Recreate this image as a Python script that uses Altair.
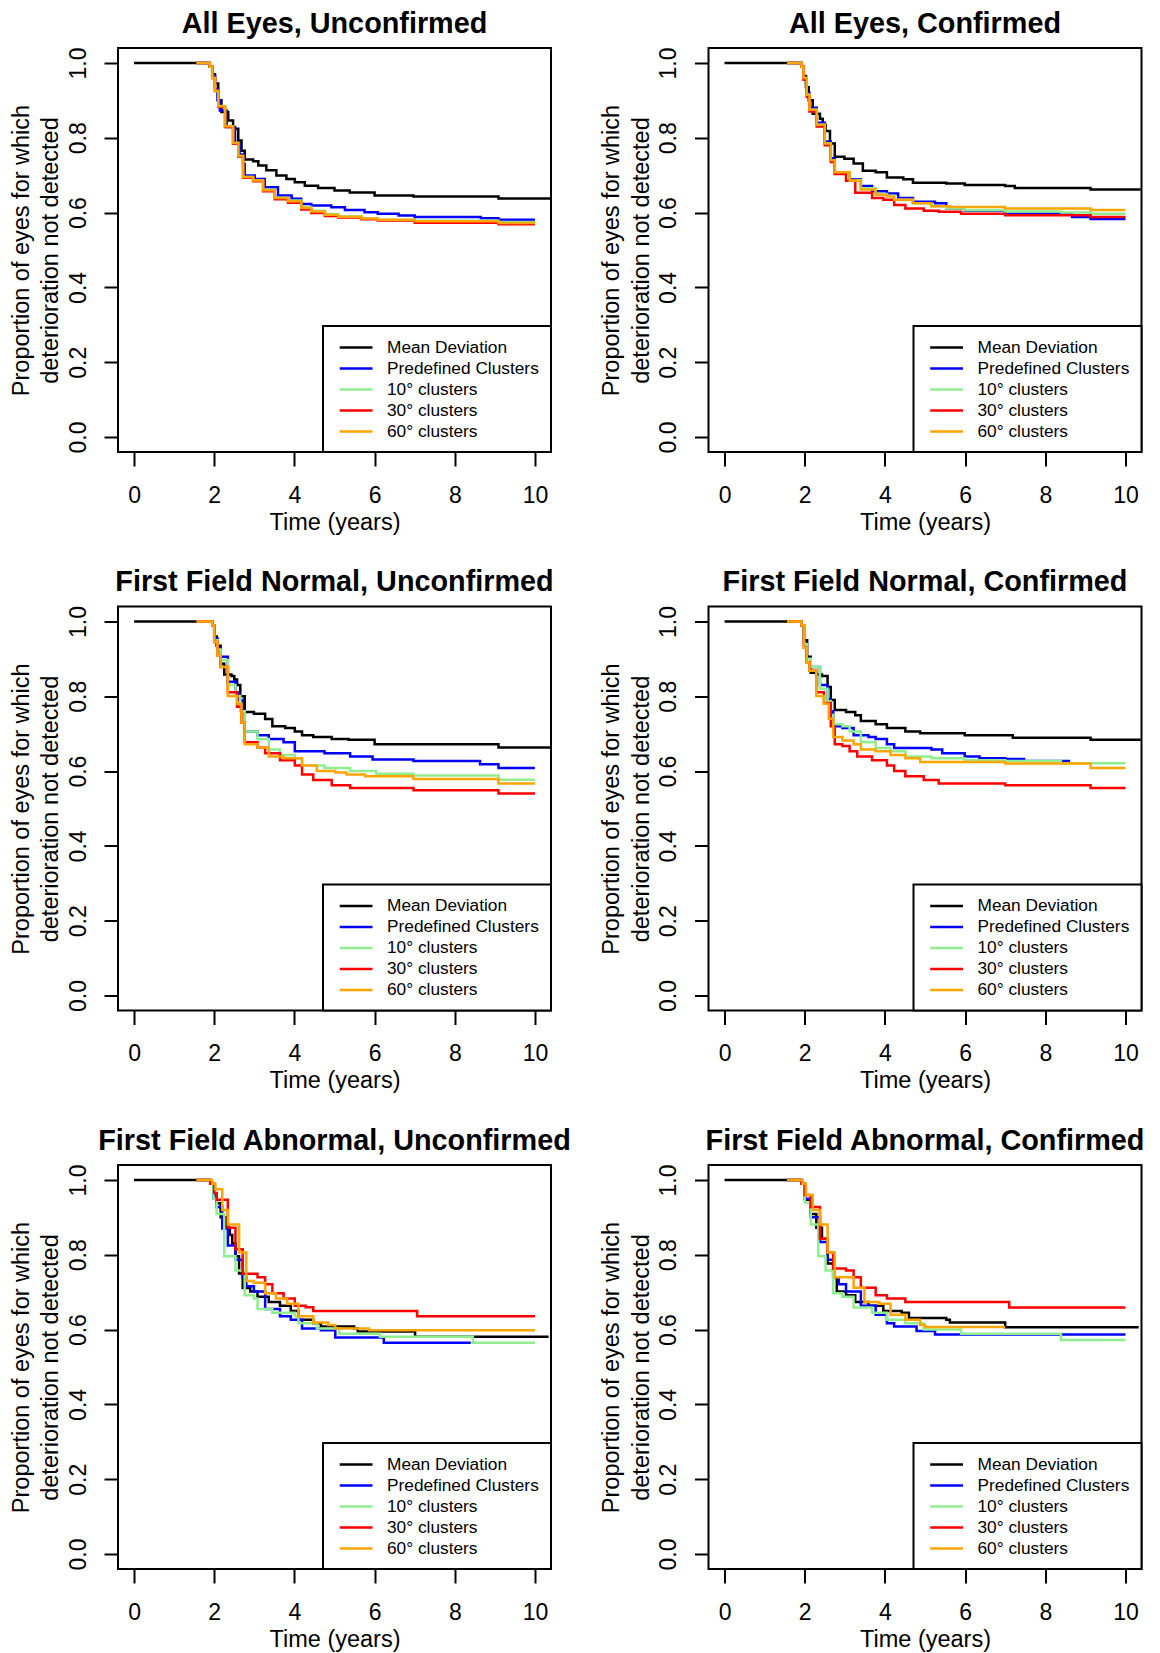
import altair as alt
import pandas as pd

SERIES = ["Mean Deviation", "Predefined Clusters", "10° clusters", "30° clusters", "60° clusters"]
COLORS = ["#000000", "#0000FF", "#90EE90", "#FF0000", "#FFA500"]
X_TICKS = [0, 2, 4, 6, 8, 10]
Y_TICKS = [0.0, 0.2, 0.4, 0.6, 0.8, 1.0]
TITLES = [
    "All Eyes, Unconfirmed", "All Eyes, Confirmed",
    "First Field Normal, Unconfirmed", "First Field Normal, Confirmed",
    "First Field Abnormal, Unconfirmed", "First Field Abnormal, Confirmed",
]

# ---- Panel 1: All Eyes, Unconfirmed (time in years, proportion not detected)
P1_MD = [(0, 1.0), (1.89, 0.99), (1.95, 0.97), (2.02, 0.945), (2.10, 0.90), (2.18, 0.869), (2.35, 0.846),
         (2.47, 0.824), (2.60, 0.793), (2.68, 0.765), (2.76, 0.742), (2.97, 0.737), (3.10, 0.726), (3.30, 0.713),
         (3.55, 0.699), (3.80, 0.690), (4.01, 0.681), (4.26, 0.672), (4.59, 0.666), (5.0, 0.659), (5.38, 0.654),
         (6.0, 0.646), (6.97, 0.643), (9.09, 0.638), (10.38, 0.638)]
P1_PC = [(1.56, 1.0), (1.89, 0.99), (1.95, 0.965), (2.02, 0.93), (2.08, 0.90), (2.14, 0.873), (2.31, 0.829),
         (2.52, 0.784), (2.63, 0.755), (2.72, 0.730), (2.76, 0.699), (3.01, 0.690), (3.26, 0.668), (3.59, 0.646),
         (3.93, 0.637), (4.17, 0.623), (4.42, 0.619), (4.92, 0.614), (5.26, 0.607), (5.75, 0.601), (6.08, 0.597),
         (6.6, 0.592), (7.0, 0.588), (8.65, 0.585), (9.09, 0.581), (10.0, 0.581)]
P1_10 = [(1.56, 1.0), (1.89, 0.99), (1.95, 0.96), (2.02, 0.925), (2.10, 0.885), (2.27, 0.829), (2.47, 0.784),
         (2.60, 0.75), (2.72, 0.695), (2.97, 0.686), (3.22, 0.661), (3.51, 0.640), (3.84, 0.632), (4.17, 0.615),
         (4.42, 0.605), (4.76, 0.596), (5.09, 0.590), (5.67, 0.585), (6.08, 0.580), (7.0, 0.578), (9.09, 0.575),
         (10.0, 0.575)]
P1_30 = [(1.56, 1.0), (1.89, 0.99), (1.95, 0.96), (2.02, 0.925), (2.10, 0.882), (2.27, 0.829), (2.47, 0.784),
         (2.60, 0.75), (2.72, 0.693), (2.97, 0.684), (3.22, 0.657), (3.51, 0.636), (3.84, 0.626), (4.17, 0.608),
         (4.42, 0.599), (4.76, 0.591), (5.09, 0.587), (5.67, 0.582), (6.08, 0.579), (7.0, 0.573), (9.09, 0.569),
         (10.0, 0.569)]
P1_60 = [(1.56, 1.0), (1.89, 0.99), (1.95, 0.96), (2.02, 0.925), (2.10, 0.884), (2.27, 0.831), (2.47, 0.786),
         (2.60, 0.752), (2.72, 0.695), (2.97, 0.686), (3.22, 0.660), (3.51, 0.639), (3.84, 0.630), (4.17, 0.612),
         (4.42, 0.603), (4.76, 0.594), (5.09, 0.589), (5.67, 0.584), (6.08, 0.581), (7.0, 0.577), (9.09, 0.572),
         (10.0, 0.572)]

# ---- Panel 2: All Eyes, Confirmed
P2_MD = [(0, 1.0), (1.92, 0.99), (1.97, 0.965), (2.03, 0.935), (2.10, 0.90), (2.2, 0.864), (2.38, 0.851),
         (2.45, 0.835), (2.52, 0.818), (2.63, 0.785), (2.75, 0.749), (2.99, 0.744), (3.22, 0.731), (3.45, 0.712),
         (3.77, 0.708), (4.05, 0.694), (4.46, 0.689), (4.7, 0.680), (5.53, 0.678), (5.99, 0.674), (7.0, 0.671),
         (7.24, 0.666), (9.13, 0.662), (10.38, 0.662)]
P2_PC = [(1.56, 1.0), (1.92, 0.99), (1.97, 0.96), (2.05, 0.92), (2.12, 0.88), (2.3, 0.84), (2.5, 0.79),
         (2.65, 0.745), (2.75, 0.708), (3.12, 0.689), (3.40, 0.671), (3.68, 0.657), (4.05, 0.651), (4.33, 0.639),
         (4.70, 0.629), (5.25, 0.625), (5.53, 0.611), (5.99, 0.605), (7.0, 0.597), (8.67, 0.588), (9.13, 0.583),
         (10.0, 0.583)]
P2_10 = [(1.56, 1.0), (1.92, 0.99), (1.97, 0.96), (2.05, 0.915), (2.12, 0.875), (2.3, 0.835), (2.5, 0.785),
         (2.65, 0.74), (2.75, 0.708), (3.12, 0.687), (3.40, 0.665), (3.77, 0.650), (4.05, 0.645), (4.23, 0.634),
         (4.70, 0.625), (5.16, 0.617), (5.53, 0.611), (5.99, 0.606), (7.0, 0.603), (8.4, 0.600), (9.13, 0.597),
         (10.0, 0.597)]
P2_30 = [(1.56, 1.0), (1.92, 0.99), (1.97, 0.955), (2.05, 0.91), (2.12, 0.87), (2.3, 0.83), (2.5, 0.78),
         (2.65, 0.735), (2.75, 0.703), (3.03, 0.685), (3.26, 0.653), (3.68, 0.639), (3.96, 0.634), (4.23, 0.620),
         (4.51, 0.611), (4.97, 0.605), (5.34, 0.602), (5.90, 0.597), (7.0, 0.593), (9.13, 0.588), (10.0, 0.588)]
P2_60 = [(1.56, 1.0), (1.92, 0.99), (1.97, 0.96), (2.05, 0.915), (2.12, 0.875), (2.3, 0.835), (2.5, 0.785),
         (2.65, 0.74), (2.75, 0.708), (3.12, 0.685), (3.40, 0.662), (3.77, 0.648), (4.05, 0.643), (4.23, 0.634),
         (4.70, 0.625), (5.16, 0.617), (5.62, 0.615), (7.0, 0.611), (9.13, 0.607), (10.0, 0.607)]

# ---- Panel 3: First Field Normal, Unconfirmed
P3_MD = [(0, 1.0), (1.95, 0.99), (2.0, 0.96), (2.06, 0.935), (2.16, 0.887), (2.25, 0.858), (2.43, 0.854),
         (2.5, 0.845), (2.57, 0.830), (2.65, 0.80), (2.76, 0.758), (2.99, 0.753), (3.27, 0.739), (3.45, 0.720),
         (3.77, 0.715), (4.01, 0.706), (4.19, 0.696), (4.47, 0.691), (4.93, 0.686), (5.35, 0.684), (6.0, 0.672),
         (9.09, 0.663), (10.38, 0.663)]
P3_PC = [(1.56, 1.0), (1.95, 0.99), (2.0, 0.955), (2.08, 0.93), (2.16, 0.906), (2.34, 0.839), (2.53, 0.811),
         (2.62, 0.79), (2.71, 0.763), (2.76, 0.706), (3.08, 0.696), (3.36, 0.686), (3.73, 0.677), (4.01, 0.653),
         (4.75, 0.648), (5.39, 0.639), (5.95, 0.631), (6.97, 0.627), (8.63, 0.618), (9.09, 0.608), (10.0, 0.608)]
P3_10 = [(1.56, 1.0), (1.95, 0.99), (2.0, 0.95), (2.08, 0.925), (2.16, 0.897), (2.34, 0.83), (2.53, 0.801),
         (2.65, 0.76), (2.76, 0.706), (3.08, 0.686), (3.36, 0.658), (3.64, 0.643), (4.01, 0.634), (4.19, 0.615),
         (4.75, 0.608), (5.39, 0.600), (6.04, 0.593), (6.97, 0.588), (9.09, 0.577), (10.0, 0.577)]
P3_30 = [(1.56, 1.0), (1.95, 0.99), (2.0, 0.945), (2.08, 0.91), (2.16, 0.878), (2.34, 0.811), (2.57, 0.772),
         (2.68, 0.73), (2.76, 0.677), (3.08, 0.663), (3.27, 0.648), (3.64, 0.629), (4.01, 0.615), (4.19, 0.591),
         (4.47, 0.576), (4.93, 0.562), (5.39, 0.555), (6.97, 0.549), (9.09, 0.540), (10.0, 0.540)]
P3_60 = [(1.56, 1.0), (1.95, 0.99), (2.0, 0.945), (2.08, 0.91), (2.16, 0.878), (2.34, 0.801), (2.57, 0.78),
         (2.68, 0.73), (2.76, 0.672), (3.08, 0.663), (3.36, 0.639), (3.73, 0.634), (4.19, 0.615), (4.56, 0.600),
         (5.02, 0.596), (5.30, 0.591), (5.76, 0.586), (6.97, 0.579), (9.09, 0.567), (10.0, 0.567)]

# ---- Panel 4: First Field Normal, Confirmed
P4_MD = [(0, 1.0), (1.92, 0.99), (1.98, 0.95), (2.06, 0.906), (2.15, 0.863), (2.29, 0.858), (2.43, 0.854),
         (2.57, 0.825), (2.65, 0.79), (2.75, 0.763), (3.03, 0.758), (3.26, 0.749), (3.40, 0.734), (3.77, 0.725),
         (4.05, 0.715), (4.51, 0.706), (4.88, 0.701), (5.99, 0.696), (7.19, 0.689), (9.13, 0.684), (10.38, 0.684)]
P4_PC = [(1.56, 1.0), (1.92, 0.99), (1.98, 0.94), (2.05, 0.90), (2.15, 0.878), (2.38, 0.830), (2.57, 0.792),
         (2.65, 0.76), (2.71, 0.720), (2.94, 0.715), (3.22, 0.696), (3.59, 0.691), (3.77, 0.686), (4.05, 0.672),
         (4.23, 0.662), (5.16, 0.658), (5.43, 0.648), (5.99, 0.639), (6.36, 0.634), (7.0, 0.632), (7.47, 0.627),
         (8.62, 0.627)]
P4_10 = [(1.56, 1.0), (1.92, 0.99), (1.98, 0.94), (2.05, 0.90), (2.15, 0.878), (2.38, 0.820), (2.57, 0.787),
         (2.65, 0.75), (2.71, 0.725), (2.94, 0.720), (3.12, 0.706), (3.40, 0.677), (3.77, 0.662), (4.14, 0.653),
         (4.51, 0.639), (5.16, 0.634), (5.99, 0.629), (7.0, 0.627), (8.39, 0.621), (10.0, 0.621)]
P4_30 = [(1.56, 1.0), (1.92, 0.99), (1.98, 0.93), (2.05, 0.89), (2.12, 0.868), (2.29, 0.811), (2.48, 0.782),
         (2.65, 0.72), (2.75, 0.672), (2.94, 0.667), (3.12, 0.653), (3.31, 0.639), (3.68, 0.629), (4.05, 0.615),
         (4.23, 0.600), (4.51, 0.586), (4.97, 0.576), (5.34, 0.567), (7.0, 0.562), (9.13, 0.555), (10.0, 0.555)]
P4_60 = [(1.56, 1.0), (1.92, 0.99), (1.98, 0.93), (2.05, 0.89), (2.12, 0.868), (2.29, 0.801), (2.48, 0.78),
         (2.6, 0.74), (2.71, 0.691), (2.94, 0.682), (3.22, 0.672), (3.40, 0.658), (3.77, 0.653), (4.14, 0.643),
         (4.51, 0.634), (4.88, 0.624), (7.0, 0.620), (9.13, 0.608), (10.0, 0.608)]

# ---- Panel 5: First Field Abnormal, Unconfirmed
P5_MD = [(0, 1.0), (1.9, 0.99), (1.98, 0.96), (2.06, 0.938), (2.16, 0.900), (2.29, 0.872), (2.39, 0.853),
         (2.45, 0.83), (2.53, 0.796), (2.62, 0.75), (2.71, 0.711), (2.90, 0.702), (3.08, 0.688), (3.36, 0.674),
         (3.64, 0.664), (3.91, 0.650), (4.10, 0.626), (4.47, 0.617), (4.66, 0.608), (5.49, 0.603), (5.58, 0.595),
         (7.01, 0.581), (10.34, 0.581)]
P5_PC = [(1.56, 1.0), (1.9, 0.99), (1.98, 0.95), (2.06, 0.928), (2.2, 0.87), (2.34, 0.825), (2.53, 0.787),
         (2.71, 0.740), (2.80, 0.716), (2.99, 0.702), (3.27, 0.655), (3.64, 0.636), (3.91, 0.626), (4.19, 0.603),
         (4.66, 0.598), (5.02, 0.579), (6.23, 0.565), (8.40, 0.565)]
P5_10 = [(1.56, 1.0), (1.9, 0.99), (1.98, 0.95), (2.06, 0.909), (2.25, 0.796), (2.53, 0.758), (2.76, 0.692),
         (2.99, 0.683), (3.08, 0.655), (3.45, 0.645), (4.01, 0.636), (4.10, 0.617), (4.56, 0.603), (5.12, 0.589),
         (6.13, 0.581), (8.45, 0.565), (10.0, 0.565)]
P5_30 = [(1.56, 1.0), (1.9, 0.99), (2.0, 0.965), (2.06, 0.947), (2.34, 0.872), (2.53, 0.815), (2.71, 0.749),
         (3.08, 0.740), (3.27, 0.721), (3.45, 0.697), (3.73, 0.683), (4.01, 0.664), (4.28, 0.660), (4.47, 0.650),
         (7.06, 0.636), (10.0, 0.636)]
P5_60 = [(1.56, 1.0), (1.95, 0.99), (2.03, 0.975), (2.2, 0.92), (2.34, 0.881), (2.62, 0.806), (2.80, 0.730),
         (2.99, 0.725), (3.27, 0.697), (3.54, 0.683), (3.82, 0.669), (4.10, 0.636), (4.47, 0.619), (4.84, 0.612),
         (5.02, 0.603), (5.86, 0.598), (10.0, 0.598)]

# ---- Panel 6: First Field Abnormal, Confirmed
P6_MD = [(0, 1.0), (1.92, 0.99), (2.01, 0.947), (2.15, 0.909), (2.29, 0.872), (2.43, 0.843), (2.57, 0.777),
         (2.71, 0.740), (2.80, 0.702), (3.03, 0.692), (3.26, 0.674), (3.59, 0.664), (3.96, 0.650), (4.42, 0.645),
         (4.6, 0.631), (5.53, 0.626), (5.62, 0.619), (7.0, 0.606), (10.33, 0.606)]
P6_PC = [(1.56, 1.0), (1.92, 0.99), (2.0, 0.95), (2.15, 0.9), (2.38, 0.834), (2.57, 0.787), (2.71, 0.740),
         (2.85, 0.721), (3.03, 0.702), (3.40, 0.664), (3.77, 0.640), (4.05, 0.617), (4.23, 0.608), (4.79, 0.596),
         (5.25, 0.587), (10.0, 0.587)]
P6_10 = [(1.56, 1.0), (1.92, 0.99), (2.0, 0.94), (2.15, 0.881), (2.34, 0.796), (2.52, 0.758), (2.71, 0.697),
         (2.94, 0.688), (3.22, 0.659), (3.68, 0.645), (4.05, 0.626), (4.51, 0.617), (4.97, 0.600), (5.90, 0.589),
         (8.39, 0.572), (10.0, 0.572)]
P6_30 = [(1.56, 1.0), (1.92, 0.99), (2.0, 0.96), (2.15, 0.928), (2.38, 0.843), (2.57, 0.806), (2.71, 0.763),
         (3.03, 0.758), (3.22, 0.740), (3.40, 0.712), (3.77, 0.692), (4.05, 0.683), (4.51, 0.674), (7.10, 0.659),
         (10.0, 0.659)]
P6_60 = [(1.56, 1.0), (1.95, 0.99), (2.03, 0.96), (2.2, 0.92), (2.38, 0.881), (2.57, 0.806), (2.75, 0.740),
         (3.03, 0.740), (3.22, 0.712), (3.49, 0.674), (3.86, 0.669), (4.14, 0.640), (4.51, 0.626), (4.88, 0.612),
         (5.0, 0.607), (7.0, 0.607)]

PANELS = [
    [P1_MD, P1_PC, P1_10, P1_30, P1_60],
    [P2_MD, P2_PC, P2_10, P2_30, P2_60],
    [P3_MD, P3_PC, P3_10, P3_30, P3_60],
    [P4_MD, P4_PC, P4_10, P4_30, P4_60],
    [P5_MD, P5_PC, P5_10, P5_30, P5_60],
    [P6_MD, P6_PC, P6_10, P6_30, P6_60],
]

FONT = "Liberation Sans"
W, H = 433, 404


def make_panel(title, curves):
    rows = []
    for name, pts in zip(SERIES, curves):
        for t, s in pts:
            rows.append({"series": name, "t": t, "s": s})
    df = pd.DataFrame(rows)

    x = alt.X("t:Q",
              scale=alt.Scale(domain=[-0.4, 10.4], nice=False, zero=False),
              axis=alt.Axis(values=X_TICKS, format="d", title="Time (years)",
                            labelPadding=18, titleX=W / 2, titleY=70,
                            titleAlign="center", titleBaseline="middle"))
    y = alt.Y("s:Q",
              scale=alt.Scale(domain=[-0.04, 1.04], nice=False, zero=False),
              axis=alt.Axis(values=Y_TICKS, format=".1f",
                            title=["Proportion of eyes for which", "deterioration not detected"],
                            labelAngle=270, labelAlign="center", labelBaseline="alphabetic",
                            labelPadding=19, titleAngle=270, titleX=-96.7, titleY=H / 2,
                            titleAlign="center", titleBaseline="middle", titleLineHeight=29.5))
    color = alt.Color("series:N",
                      scale=alt.Scale(domain=SERIES, range=COLORS),
                      legend=alt.Legend(title=None, orient="bottom-right", offset=0, padding=12,
                                        strokeColor="black", fillColor="white",
                                        symbolType="M-0.6,0H3.5", symbolSize=256,
                                        symbolStrokeWidth=2.5, labelFontSize=17.3, labelFont=FONT,
                                        labelColor="black", labelOffset=33, rowPadding=3,
                                        labelLimit=400))
    layers = []
    for name in SERIES:
        layers.append(
            alt.Chart()
            .mark_line(interpolate="step-after", strokeWidth=2.5)
            .encode(x=x, y=y, color=color)
            .transform_filter(alt.datum.series == name)
        )
    return alt.layer(*layers, data=df).properties(
        width=W, height=H,
        title=alt.TitleParams(title, fontSize=28.8, fontWeight="bold", font=FONT, color="black",
                              anchor="middle", frame="group", baseline="alphabetic", offset=-14.4),
    )


panels = [make_panel(t, c) for t, c in zip(TITLES, PANELS)]

chart = (
    alt.concat(*panels, columns=2, spacing={"row": 154.5, "column": 157.5}, bounds="flush")
    .resolve_scale(color="independent")
    .properties(padding={"left": 0, "top": 0, "right": 5, "bottom": 2}, background="white")
    .configure_view(stroke="black", strokeWidth=2)
    .configure_axis(domain=False, grid=False, ticks=True, tickSize=14, tickWidth=2, tickColor="black",
                    labelFont=FONT, labelFontSize=23, labelColor="black", labelFlush=False,
                    labelOverlap=False, titleFont=FONT, titleFontSize=23.5, titleFontWeight="normal",
                    titleColor="black")
    .configure_legend(strokeWidth=2)
)

chart.save("out.html", embed_options={"renderer": "svg", "actions": False})
